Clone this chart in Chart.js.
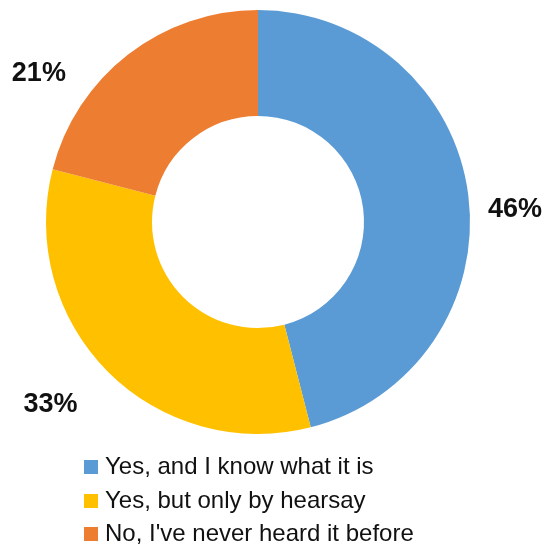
<!DOCTYPE html>
<html>
<head>
<meta charset="utf-8">
<script src="https://cdn.jsdelivr.net/npm/chart.js@4"></script>
<style>
  body { margin: 0; background: #fff; }
  #wrap { position: relative; width: 543px; height: 548px; }
  #legend { position: absolute; left: 84px; top: 451px; font-family: "Liberation Sans", Arial, sans-serif; font-size: 24px; color: #111; }
  #legend div { height: 33.5px; line-height: 29px; white-space: nowrap; }
  #legend span { display: inline-block; width: 14px; height: 14px; margin-right: 7px; vertical-align: 0px; }
</style>
</head>
<body>
<div id="wrap">
  <canvas id="pie" width="543" height="548"></canvas>
  <div id="legend"></div>
</div>
<script>
const labels = ['Yes, and I know what it is', 'Yes, but only by hearsay', "No, I've never heard it before"];
const values = [46, 33, 21];
const colors = ['#5B9BD5', '#FFC000', '#ED7D31'];

// legend as plain html, one item per line
const legend = document.getElementById('legend');
labels.forEach((l, i) => {
    const row = document.createElement('div');
    row.innerHTML = '<span style="background:' + colors[i] + '"></span>' + l;
    legend.appendChild(row);
});

// percentage labels outside each slice
const nudge = [[1, 20], [-25, 0], [-61, 55]];
const outsideLabels = {
    id: 'outsideLabels',
    afterDatasetsDraw(chart) {
        const ctx = chart.ctx;
        const meta = chart.getDatasetMeta(0);
        ctx.save();
        ctx.font = 'bold 27px "Liberation Sans", Arial, sans-serif';
        ctx.fillStyle = '#111';
        ctx.textAlign = 'center';
        ctx.textBaseline = 'middle';
        meta.data.forEach((arc, i) => {
            const mid = (arc.startAngle + arc.endAngle) / 2;
            const r = arc.outerRadius + 46;
            const x = arc.x + Math.cos(mid) * r + nudge[i][0];
            const y = arc.y + Math.sin(mid) * r + nudge[i][1];
            ctx.fillText(values[i] + '%', x, y);
        });
        ctx.restore();
    }
};

new Chart(document.getElementById('pie'), {
    type: 'doughnut',
    data: {
        labels: labels,
        datasets: [{
            data: values,
            backgroundColor: colors,
            borderWidth: 0
        }]
    },
    options: {
        responsive: false,
        animation: false,
        cutout: '50%',
        layout: { padding: { top: 10, left: 46, right: 73, bottom: 114 } },
        plugins: {
            legend: { display: false },
            tooltip: { enabled: false }
        }
    },
    plugins: [outsideLabels]
});
</script>
</body>
</html>
